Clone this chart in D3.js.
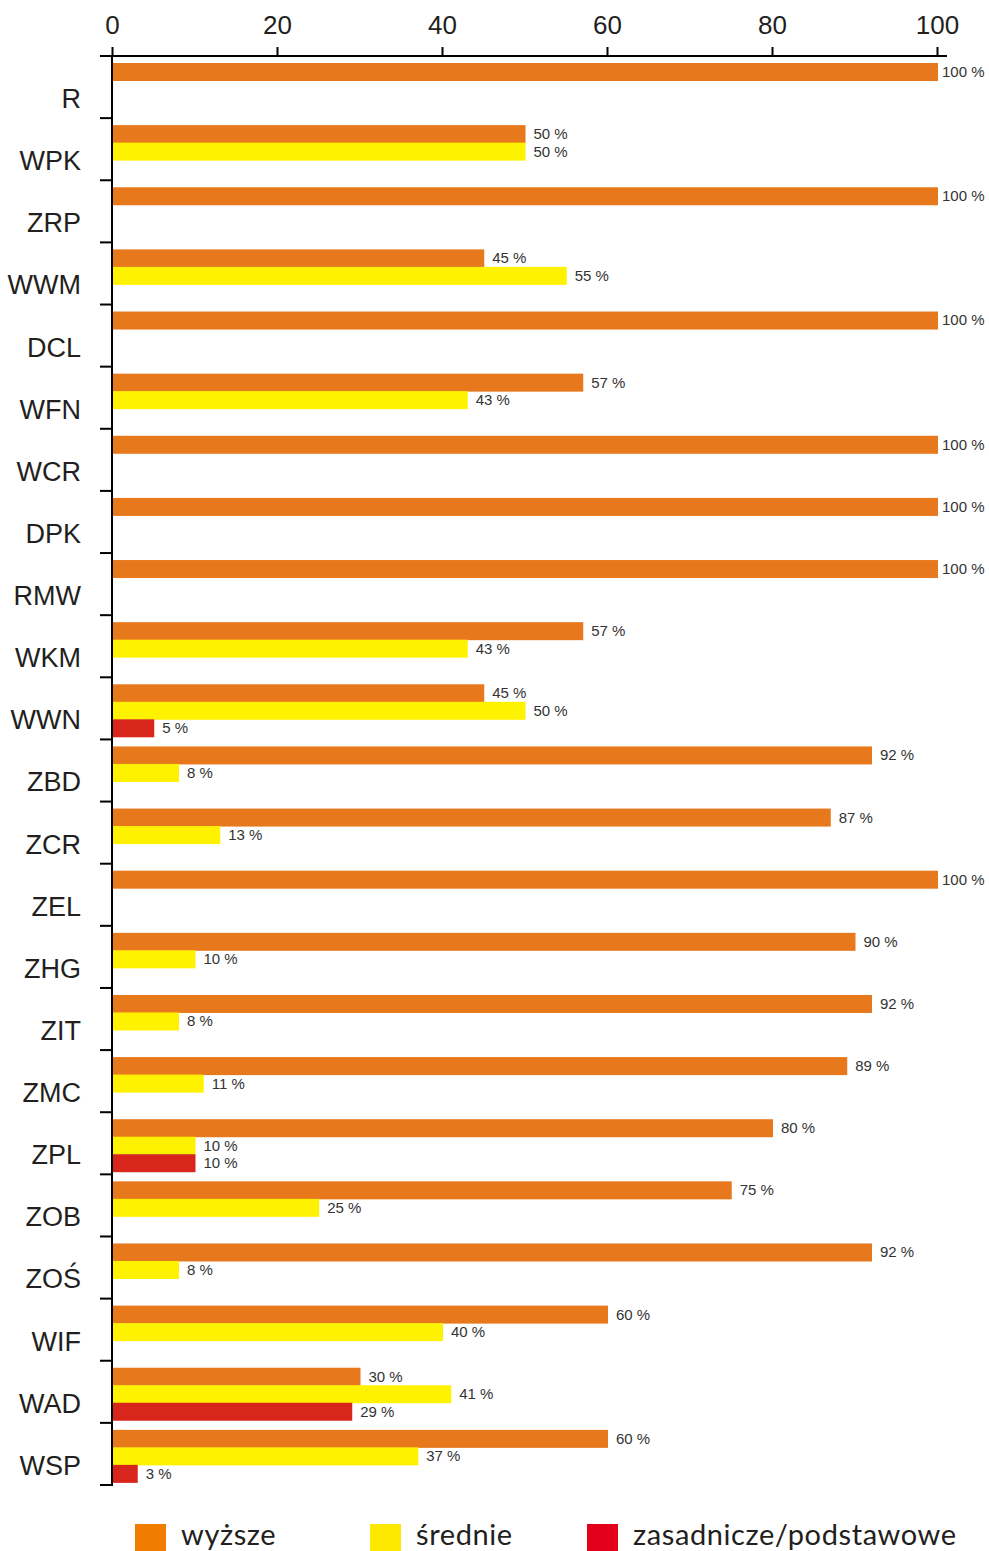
<!DOCTYPE html>
<html>
<head>
<meta charset="utf-8">
<script src="https://cdn.jsdelivr.net/npm/d3@7"></script>
<style>
  body { margin: 0; background: #fff; }
  svg { display: block; }
</style>
</head>
<body>
<div id="chart"></div>
<script>
// categories and values per series (percent)
const categories = ["R","WPK","ZRP","WWM","DCL","WFN","WCR","DPK","RMW","WKM","WWN","ZBD","ZCR","ZEL","ZHG","ZIT","ZMC","ZPL","ZOB","ZOŚ","WIF","WAD","WSP"];
const wyzsze    = [100,50,100,45,100,57,100,100,100,57,45,92,87,100,90,92,89,80,75,92,60,30,60];
const srednie   = [null,50,null,55,null,43,null,null,null,43,50,8,13,null,10,8,11,10,25,8,40,41,37];
const zasadnicze= [null,null,null,null,null,null,null,null,null,null,5,null,null,null,null,null,null,10,null,null,null,29,3];
const ticks = [0,20,40,60,80,100];

const seriesNames = ["wyższe","średnie","zasadnicze/podstawowe"];
const barColors = ["#e8781c","#fff200","#d9261c"];
const legendColors = ["#f07d00","#ffe800","#e2001a"];

const FONT = "'Liberation Sans', Arial, sans-serif";

const W = 989, H = 1551;
const svg = d3.select("#chart").append("svg")
    .attr("width", W)
    .attr("height", H);

const x = d3.scaleLinear().domain([0, 100]).range([112, 937]);
const y = d3.scaleBand().domain(categories).range([56, 1485]).paddingInner(0);

// top axis
const xAxis = svg.append("g")
    .attr("transform", "translate(0,56)")
    .call(d3.axisTop(x).tickValues(ticks).tickSize(9).tickSizeOuter(0).tickPadding(13));
xAxis.select(".domain").remove();
xAxis.selectAll(".tick line").attr("stroke", "#000").attr("stroke-width", 2);
xAxis.selectAll(".tick text")
    .attr("font-family", FONT)
    .attr("font-size", 26)
    .attr("fill", "#231f20");
svg.append("line")
    .attr("x1", 100).attr("x2", 947)
    .attr("y1", 56).attr("y2", 56)
    .attr("stroke", "#000").attr("stroke-width", 2);

// left axis with separators between categories
svg.append("line")
    .attr("x1", 112).attr("x2", 112)
    .attr("y1", 56).attr("y2", 1486)
    .attr("stroke", "#000").attr("stroke-width", 2);
const edges = categories.map(c => y(c)).concat([y.range()[1]]);
svg.append("g").selectAll("line")
  .data(edges.slice(1))
  .join("line")
    .attr("x1", 100).attr("x2", 112)
    .attr("y1", d => d).attr("y2", d => d)
    .attr("stroke", "#000").attr("stroke-width", 2);

svg.append("g").selectAll("text")
  .data(categories)
  .join("text")
    .attr("x", 81)
    .attr("y", d => y(d) + 52)
    .attr("text-anchor", "end")
    .attr("font-family", FONT)
    .attr("font-size", 27)
    .attr("fill", "#231f20")
    .text(d => d);

// bars
const series = [wyzsze, srednie, zasadnicze];
const barH = 18, step = 17.5, offset = 7;
const rows = [];
categories.forEach((c, i) => {
  series.forEach((s, k) => {
    if (s[i] != null) rows.push({ cat: c, k: k, v: s[i] });
  });
});

const bars = svg.append("g");
bars.selectAll("rect")
  .data(rows)
  .join("rect")
    .attr("x", x(0) + 1)
    .attr("y", d => y(d.cat) + offset + d.k * step)
    .attr("width", d => x(d.v) - x(0))
    .attr("height", barH)
    .attr("fill", d => barColors[d.k]);

bars.selectAll("text")
  .data(rows)
  .join("text")
    .attr("x", d => x(d.v) + (d.v === 100 ? 5 : 9))
    .attr("y", d => y(d.cat) + offset + d.k * step + barH / 2 + 1)
    .attr("dominant-baseline", "middle")
    .attr("font-family", FONT)
    .attr("font-size", 15)
    .attr("fill", "#333")
    .text(d => d.v + " %");

// legend
const legendX = [135, 370, 587];
const legend = svg.append("g").selectAll("g")
  .data(seriesNames)
  .join("g")
    .attr("transform", (d, i) => `translate(${legendX[i]},1524)`);
legend.append("rect")
    .attr("width", 31).attr("height", 27)
    .attr("fill", (d, i) => legendColors[i]);
legend.append("text")
    .attr("x", 46).attr("y", 21)
    .attr("font-family", "Lato, 'Open Sans', sans-serif")
    .attr("font-size", 29)
    .attr("letter-spacing", 0.6)
    .attr("fill", "#231f20")
    .text(d => d);
</script>
</body>
</html>
